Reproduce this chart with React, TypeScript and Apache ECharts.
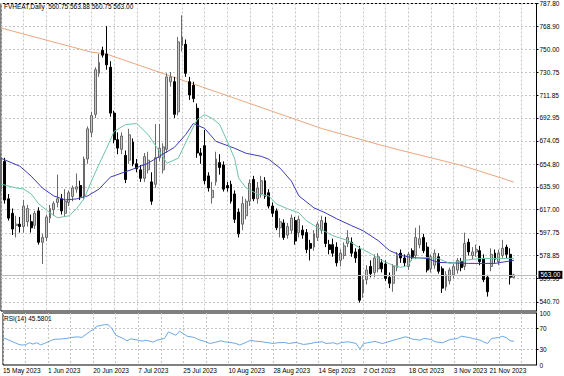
import React, { useEffect, useRef } from "react";
import * as echarts from "echarts";

// ---------- data ----------
const SYMBOL = "FVHEAT,Daily";
const LAST_OHLC = [560.75, 563.88, 560.75, 563.0];
const RSI_PERIOD = 14;
const RSI_LAST = 45.5801;

const opens = [634,657,626,614,604,605,603,607,607,604,616,590,594,610,617,623,626,614,623,628,634,637,628,659,681,696,730,749,746,735,697,675,667,662,658,673,655,650,643,650,640,638,660,650,667,723,723,698,753,754,723,720,701,664,670,645,627,640,656,654,637,638,630,615,605,612,624,642,626,630,641,631,620,616,602,606,596,600,608,598,600,598,589,586,594,600,606,588,588,586,575,579,589,590,582,584,548,559,570,565,568,573,572,561,556,569,581,577,570,583,579,588,594,586,568,571,578,568,553,558,563,567,574,570,590,579,582,583,576,561,570,581,574,579,586,580,560.75];
const highs = [664,660,630,618,612,611,625,621,613,616,619,597,613,621,624,646,630,634,633,637,647,641,661,686,698,735,746,752,769,740,699,681,681,666,684,676,659,654,664,665,648,688,688,672,730,731,727,760,778,758,727,723,705,668,683,648,640,665,663,657,640,641,633,618,628,626,642,645,640,645,644,634,623,618,610,609,606,613,611,612,604,601,592,600,607,612,611,592,593,590,584,590,600,594,585,587,563,571,575,580,581,576,575,565,572,582,584,580,582,585,602,604,597,590,580,584,581,570,566,569,572,577,577,598,593,586,588,587,580,563,585,584,584,592,588,585,563.88];
const lows = [630,622,608,596,594,598,598,603,598,601,588,572,591,606,612,619,613,611,620,624,631,625,626,655,677,693,727,743,733,694,672,663,663,639,655,653,648,640,640,647,621,635,657,647,664,719,693,695,748,727,708,706,660,655,638,632,622,637,646,632,632,622,606,594,600,609,620,624,622,627,626,618,611,600,594,592,593,597,588,594,593,581,575,583,591,597,586,580,578,570,570,576,586,578,573,540,544,555,561,561,565,565,558,552,549,566,573,570,567,575,576,585,581,565,565,568,564,548,550,555,560,564,566,567,579,576,578,571,557,545,566,573,571,577,577,555,560.75];
const closes = [660,625,610,601,605,603,620,618,602,614,590,594,611,618,622,626,616,624,631,635,636,628,659,684,695,733,739,745,737,697,675,668,678,642,679,655,651,643,661,658,624,660,668,669,727,727,696,756,760,730,712,709,664,662,641,635,633,659,652,634,635,624,609,597,622,624,639,626,635,641,628,620,614,602,607,594,603,610,591,609,596,584,585,597,605,608,589,584,581,573,581,587,594,581,577,542,559,567,564,577,578,568,560,556,570,579,577,573,580,578,594,593,583,567,578,581,566,552,563,567,570,575,569,589,582,582,584,574,559,549,580,576,581,585,580,561,563.0];

// moving averages read as [bar index, price]
const maSlow = [[0,767.5],[24,747.5],[28,745.9],[57,714.7],[85,684.3],[100,671.1],[106,666.2],[122,653.8],[132,643.9],[136,639.8]];
const maBlue = [[0,659.6],[5,653],[8,644.8],[11,634.9],[14,628.4],[17,625.1],[20,625.9],[23,628.4],[26,634.1],[29,644],[35,650.6],[39,655.5],[42,661.2],[46,668.7],[49,679.3],[51,688.4],[54,684.3],[57,673.6],[62,667.8],[65,663.7],[69,661.2],[71,658.8],[74,651.4],[77,640.7],[79,628.4],[83,618.5],[86,614.4],[89,609.5],[93,603.7],[96,599.6],[100,591.4],[103,583.2],[106,579.1],[109,577.4],[113,576.6],[116,573.3],[124,572.5],[131,572.5],[136,575]];
const maGreen = [[0,638.2],[4,635],[6,634.1],[8,630],[10,621.8],[13,614.4],[15,610.3],[18,611.9],[20,617.7],[22,625.9],[24,640.7],[26,654.7],[28,667.8],[30,681.8],[33,687.5],[36,688.4],[39,679.3],[42,665.4],[44,655.5],[47,659.6],[50,679.3],[52,691.6],[54,695.8],[56,692.5],[58,687.5],[60,673.6],[62,658.8],[63,643.2],[65,635],[68,630],[71,628.4],[73,621.8],[76,617.7],[79,614.4],[81,607.8],[84,602.1],[88,595.5],[92,591.4],[95,585.6],[98,580.7],[101,575],[104,570.8],[106,569.2],[108,570.8],[109,576.6],[113,577.4],[116,576.6],[119,572.5],[123,575],[127,576.6],[132,576.6],[136,576.6]];
const rsi = [[0,52.9],[2,46.5],[4,40.2],[5,38.3],[6,38.9],[7,42.7],[8,40.2],[9,42.7],[10,38.9],[11,41.4],[13,47.8],[14,49.7],[15,49.7],[17,51],[18,52.9],[20,54.1],[21,52.9],[23,63.7],[24,68.1],[25,74.4],[27,77.6],[28,77.6],[29,70],[30,57.3],[32,51],[33,46.5],[34,50.3],[36,47.8],[37,45.9],[38,47.8],[40,44],[41,47.8],[43,51],[44,63.7],[46,57.3],[47,64.9],[48,60.5],[49,55.4],[51,52.9],[52,49.1],[54,44.6],[55,41.4],[56,42.7],[58,46.5],[59,44.6],[61,42.7],[62,41.4],[63,38.3],[65,44.6],[66,47.8],[67,45.9],[69,44.6],[70,43.3],[72,41.4],[73,42.7],[75,43.3],[76,41.4],[78,43.3],[79,41.4],[80,39.5],[82,41.4],[83,43.3],[85,44.6],[86,41.4],[88,42.7],[89,40.2],[90,43.3],[92,44.6],[94,41.4],[95,30.6],[96,41.4],[97,42.7],[98,44],[99,45.3],[101,41.4],[102,43.3],[104,47.8],[105,49.7],[107,54.1],[108,52.9],[109,49.7],[111,47.8],[112,51],[114,49.1],[115,44.6],[117,42.7],[118,45.9],[119,49.1],[121,51],[122,55.4],[124,52.9],[125,51],[127,47.8],[128,44],[129,41.4],[130,51],[132,52.9],[133,55.4],[134,52.2],[135,46.5],[136,45.5801]];

const priceTicks = [787.8, 768.9, 750.0, 730.75, 711.85, 692.95, 674.05, 654.8, 635.9, 617.0, 597.75, 578.85, 559.95, 540.7];
const rsiTicks = [0, 30, 70, 100];
const rsiLevels = [30, 70];
const dateLabels = ["15 May 2023","1 Jun 2023","20 Jun 2023","7 Jul 2023","25 Jul 2023","10 Aug 2023","28 Aug 2023","14 Sep 2023","2 Oct 2023","18 Oct 2023","3 Nov 2023","21 Nov 2023"];
const BARS_PER_LABEL = 12;
const SLOTS = 143;

// ---------- styling ----------
const FONT = "Liberation Sans, Arial, sans-serif";
const GRID_LINE = { color: "#c6c6c6", type: [2, 2] as number[], width: 1 };

function buildOption(): any {
  const cats = Array.from({ length: SLOTS }, (_, i) => String(i));
  const candles = opens.map((o, i) => [o, closes[i], lows[i], highs[i]]);
  const lastLabelIdx = (dateLabels.length - 1) * BARS_PER_LABEL;

  const hiddenX = {
    type: "category",
    data: cats,
    boundaryGap: false,
    axisLine: { show: false },
    axisTick: { show: false },
  };

  return {
    animation: false,
    backgroundColor: "#ffffff",
    textStyle: { fontFamily: FONT },
    grid: [
      { left: 1, right: 27.5, top: 1, height: 310, show: true, borderColor: "#000", borderWidth: 1, backgroundColor: "transparent" },
      { left: 1, right: 27.5, top: 313, height: 52, show: true, borderColor: "#000", borderWidth: 1, backgroundColor: "transparent" },
    ],
    xAxis: [
      { ...hiddenX, gridIndex: 0, axisLabel: { show: false }, splitLine: { show: true, interval: 5, lineStyle: GRID_LINE } },
      {
        ...hiddenX,
        gridIndex: 1,
        position: "bottom",
        splitLine: { show: true, interval: 5, lineStyle: GRID_LINE },
        axisLabel: {
          show: true,
          interval: (i: number) => i % BARS_PER_LABEL === 0 && i < lastLabelIdx,
          formatter: (_v: string, i: number) => dateLabels[i / BARS_PER_LABEL] ?? "",
          align: "left",
          fontSize: 6.5,
          fontFamily: FONT,
          color: "#000",
          margin: 2,
        },
      },
      {
        ...hiddenX,
        gridIndex: 1,
        position: "bottom",
        splitLine: { show: false },
        axisLabel: {
          show: true,
          interval: (i: number) => i === lastLabelIdx,
          formatter: () => `{p| }{t|${dateLabels[dateLabels.length - 1]}}`,
          align: "center",
          margin: 2,
          rich: {
            p: { width: 18, fontSize: 6.5 },
            t: { fontSize: 6.5, color: "#000", fontFamily: FONT },
          },
        },
      },
    ],
    yAxis: [
      {
        gridIndex: 0,
        type: "value",
        position: "right",
        min: 533.06,
        max: 787.8,
        axisLine: { show: true, lineStyle: { color: "#000", width: 1 } },
        axisTick: { show: true, length: 2, customValues: priceTicks, lineStyle: { color: "#000" } },
        axisLabel: { customValues: priceTicks, formatter: (v: number) => v.toFixed(2), fontSize: 6.5, fontFamily: FONT, color: "#000", margin: 3 },
        splitLine: { show: true, lineStyle: GRID_LINE },
      },
      {
        gridIndex: 1,
        type: "value",
        position: "right",
        min: 0,
        max: 100,
        axisLine: { show: true, lineStyle: { color: "#000", width: 1 } },
        axisTick: { show: true, length: 2, customValues: rsiLevels, lineStyle: { color: "#000" } },
        axisLabel: { customValues: rsiTicks, fontSize: 6.5, fontFamily: FONT, color: "#000", margin: 3 },
        splitLine: { show: true, lineStyle: GRID_LINE },
      },
    ],
    series: [
      {
        type: "candlestick",
        xAxisIndex: 0,
        yAxisIndex: 0,
        data: candles,
        barWidth: 2.4,
        itemStyle: { color: "#c8c8c8", color0: "#000000", borderColor: "#6a6a6a", borderColor0: "#000000", borderWidth: 1 },
        markLine: {
          silent: true,
          symbol: "none",
          data: [{ yAxis: LAST_OHLC[3] }],
          lineStyle: { color: "#bdbdbd", type: "solid", width: 1 },
          label: {
            show: true,
            position: "end",
            distance: 2,
            formatter: LAST_OHLC[3].toFixed(2),
            backgroundColor: "#000",
            color: "#fff",
            fontSize: 6.5,
            fontFamily: FONT,
            padding: [1, 2, 0, 2],
          },
        },
        z: 3,
      },
      { type: "line", xAxisIndex: 0, yAxisIndex: 0, data: maSlow, showSymbol: false, lineStyle: { color: "#eaa77c", width: 1 }, z: 2 },
      { type: "line", xAxisIndex: 0, yAxisIndex: 0, data: maBlue, showSymbol: false, lineStyle: { color: "#3b3bbf", width: 1 }, z: 4 },
      { type: "line", xAxisIndex: 0, yAxisIndex: 0, data: maGreen, showSymbol: false, lineStyle: { color: "#6cc4a4", width: 1 }, z: 4 },
      { type: "line", xAxisIndex: 1, yAxisIndex: 1, data: rsi, showSymbol: false, lineStyle: { color: "#6aa8e6", width: 1 } },
    ],
    graphic: [
      {
        type: "text",
        left: 4,
        top: 3,
        z: 10,
        style: { text: `${SYMBOL}  ${LAST_OHLC.map((v) => v.toFixed(2)).join(" ")}`, fontSize: 6.5, fontFamily: FONT, fill: "#000" },
      },
      {
        type: "text",
        left: 4,
        top: 315,
        z: 10,
        style: { text: `RSI(${RSI_PERIOD}) ${RSI_LAST.toFixed(4)}`, fontSize: 6.5, fontFamily: FONT, fill: "#000" },
      },
    ],
  };
}

export default function App() {
  const ref = useRef<HTMLDivElement>(null);
  useEffect(() => {
    if (!ref.current) return;
    const chart = echarts.init(ref.current, undefined, { renderer: "svg" });
    chart.setOption(buildOption());
    return () => chart.dispose();
  }, []);
  return (
    <div
      ref={ref}
      style={{ position: "fixed", left: 0, top: 0, width: 564, height: 376, background: "#fff" }}
    />
  );
}
